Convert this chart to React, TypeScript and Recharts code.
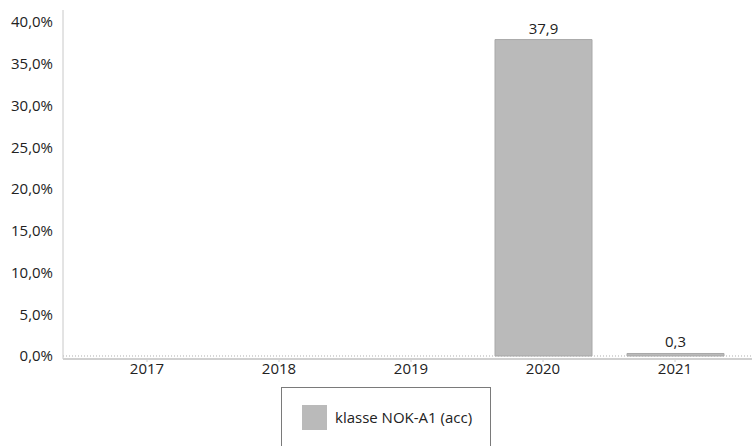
import { BarChart, Bar, XAxis, YAxis, Legend, LabelList, ReferenceLine } from "recharts"

const years = ["2017", "2018", "2019", "2020", "2021"]
const nokA1 = [0, 0, 0, 37.9, 0.3]
const yTicks = [0, 5, 10, 15, 20, 25, 30, 35, 40]
const seriesName = "klasse NOK-A1 (acc)"

const data = years.map((year, i) => ({ year, value: nokA1[i] }))

const font = "'Open Sans', sans-serif"
const textColor = "#222"

function LegendBox() {
  return (
    <div
      style={{
        border: "1px solid #7a7a7a",
        borderBottom: "none",
        width: 210,
        height: 70,
        boxSizing: "border-box",
        position: "relative",
        fontFamily: font,
        fontSize: 15,
        color: textColor,
      }}
    >
      <div
        style={{
          position: "absolute",
          left: 20,
          top: 17,
          width: 25,
          height: 25,
          background: "#bababa",
        }}
      />
      <div style={{ position: "absolute", left: 53, top: 17, lineHeight: "24px" }}>{seriesName}</div>
    </div>
  )
}

export default function App() {
  return (
    <div style={{ position: "absolute", left: 0, top: 0, width: 752, height: 446, background: "#fff" }}>
      <BarChart
        width={752}
        height={446}
        data={data}
        margin={{ top: 10, right: 0, left: 0, bottom: 57 }}
        barSize={97}
      >
        <YAxis
          width={63}
          domain={[-0.36, 41.44]}
          ticks={yTicks}
          allowDataOverflow
          tickLine={false}
          axisLine={{ stroke: "#c8c8c8" }}
          tickFormatter={(v: number) => v.toFixed(1).replace(".", ",") + "%"}
          tick={{ fill: textColor, fontSize: 15, fontFamily: font }}
          tickMargin={4}
        />
        <XAxis
          dataKey="year"
          height={30}
          padding={{ left: 18, right: 11 }}
          axisLine={{ stroke: "#d0d0d0", strokeWidth: 2 }}
          tickLine={{ stroke: "#d0d0d0" }}
          tickSize={3}
          tickMargin={1}
          tick={{ fill: textColor, fontSize: 15, fontFamily: font }}
        />
        <ReferenceLine y={0} stroke="#b0b0b0" strokeDasharray="1 2" />
        <Bar dataKey="value" name={seriesName} fill="#bababa" stroke="#a8a8a8" isAnimationActive={false}>
          <LabelList
            dataKey="value"
            position="top"
            offset={6}
            formatter={(v: number) => (v > 0 ? v.toFixed(1).replace(".", ",") : "")}
            style={{ fill: textColor, fontSize: 15, fontFamily: font }}
          />
        </Bar>
        <Legend
          layout="horizontal"
          verticalAlign="middle"
          align="center"
          content={() => <LegendBox />}
          wrapperStyle={{ left: 281, top: 387, width: 212, height: 59 }}
        />
      </BarChart>
    </div>
  )
}
